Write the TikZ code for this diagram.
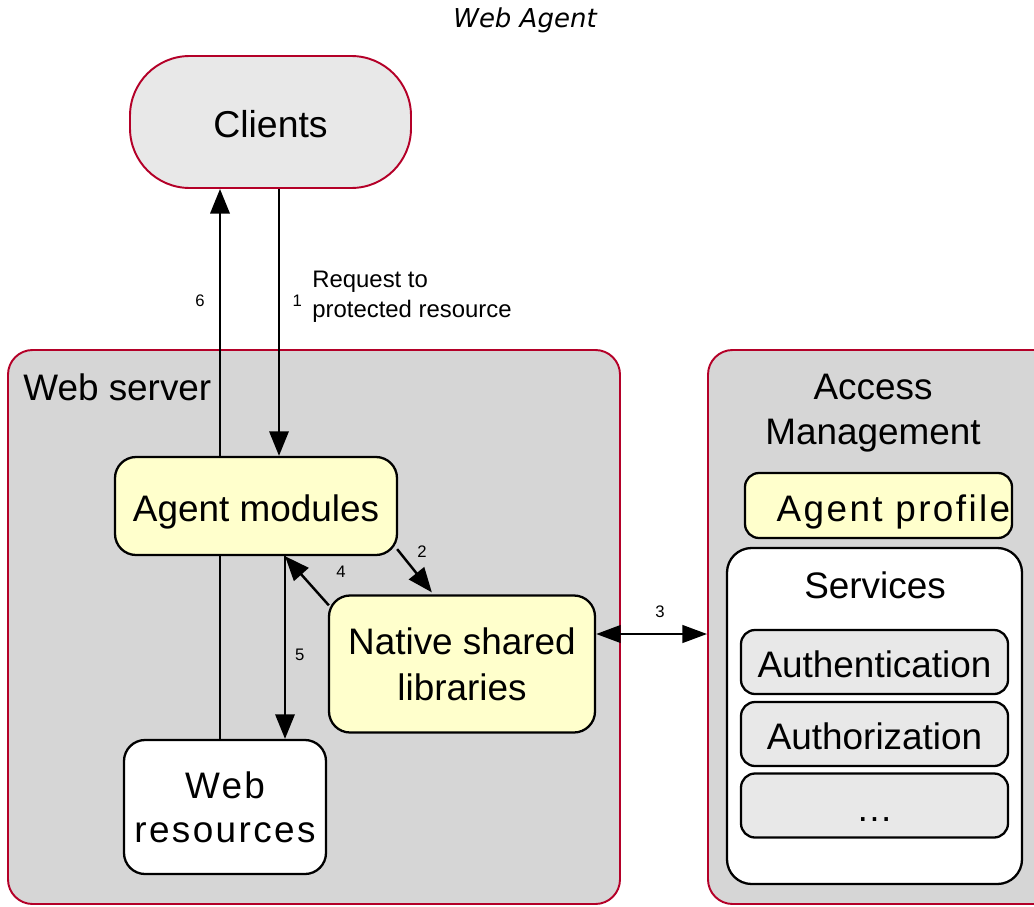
\documentclass[tikz,border=0pt]{standalone}
\usepackage{fontspec}
\setmainfont{Liberation Sans}
\newfontfamily\titlefont{DejaVu Sans}
\newfontfamily\widefont[LetterSpace=6.5]{Liberation Sans}
\usetikzlibrary{arrows.meta}

\definecolor{amred}{RGB}{180,0,40}
\definecolor{panelgray}{RGB}{214,214,214}
\definecolor{boxyellow}{RGB}{255,255,204}
\definecolor{boxgray}{RGB}{232,232,232}

\tikzset{
  sz/.style 2 args={minimum width=#1*0.02cm, minimum height=#2*0.02cm},
  bigtext/.style={font=\fontsize{21}{26}\selectfont},
  oneline/.style={text height=18pt, text depth=0pt},
  panel/.style={draw=amred, line width=1.1pt, fill=panelgray, rounded corners=14pt, inner sep=0pt},
  box/.style={draw=black, line width=1.3pt, rounded corners=12pt, inner sep=0pt, align=center, bigtext},
  svc/.style={box, oneline, fill=boxgray, rounded corners=8pt, sz={267}{64}},
  arr/.style={-{Triangle[length=14pt,width=11pt]}, line width=1.4pt},
  dblarr/.style={{Triangle[length=14pt,width=10pt]}-{Triangle[length=14pt,width=10pt]}, line width=1.4pt},
  num/.style={font=\fontsize{9.5}{11}\selectfont, inner sep=0pt}
}

\begin{document}
\begin{tikzpicture}[x=0.02cm, y=-0.02cm]
    \useasboundingbox (0,0) rectangle (1034,906);
    \clip (0,0) rectangle (1034,906);

    % Title
    \node (title) at (525,20) {\titlefont\itshape\fontsize{14.8}{18}\selectfont Web Agent};

    % Panels
    \node[panel, sz={612}{554}] (websrv) at (314,627) {};
    \node[panel, sz={362}{554}] (am) at (889,627) {};
    \node[bigtext, anchor=base west, inner sep=0pt] (websrvlabel) at (23,400) {Web server};
    \node[bigtext, align=center] (amlabel) at (873,413) {Access\\Management};

    % Clients
    \node[box, oneline, fill=boxgray, draw=amred, line width=1.1pt, rounded corners=34pt,
          sz={281}{132}, font=\fontsize{21.3}{26}\selectfont] (clients) at (270.5,122) {Clients};

    % Inside the web server
    \node[box, oneline, fill=boxyellow, sz={282}{98}] (agent) at (256,506) {Agent modules};
    \node[box, fill=boxyellow, sz={266}{137}] (native) at (462,664) {Native shared\\libraries};
    \node[box, fill=white, sz={202}{134},
          font={\widefont\fontsize{21}{25}\selectfont}] (webres) at (225,807) {Web\\resources};

    % Inside access management
    \node[box, oneline, fill=boxyellow, rounded corners=8pt, sz={267}{65},
          font={\widefont\fontsize{21}{25}\selectfont}] (profile) at (878.5,505.5) {\hspace*{0.6cm}Agent profile};
    \node[box, fill=white, rounded corners=14pt, sz={295}{336}] (services) at (874.5,716) {};
    \node[bigtext] (svclabel) at (875,585) {Services};
    \node[svc] (authn) at (874.5,662) {Authentication};
    \node[svc] (authz) at (874.5,734) {Authorization};
    \node[svc] (more) at (874.5,805.5) {\textellipsis};

    % Clients <-> agent modules
    \draw[arr] (agent.north -| 220,0) -- (clients.south -| 220,0) node[num, pos=0.58, left=8pt] {6};
    \draw[arr] (clients.south -| 279,0) -- (agent.north -| 279,0) node[num, pos=0.42, right=7pt] {1};
    \node[align=left, anchor=west, inner sep=0pt, font=\fontsize{13.6}{17}\selectfont] (req) at (312,297) {Request to\\protected resource};

    % Agent modules <-> web resources
    \draw[line width=1.4pt] (agent.south -| 220,0) -- (webres.north -| 220,0);
    \draw[arr] (agent.south -| 285,0) -- (webres.north -| 285,0) node[num, pos=0.54, right=5pt] {5};

    % Agent modules <-> native libraries
    \draw[arr] ([shift={(-1,-7)}]agent.south east) -- ([shift={(104,-2)}]native.north west);
    \node[num] (n2) at (422,552) {2};
    \draw[arr] ([shift={(1,11)}]native.north west) -- (agent.south -| 285,0);
    \node[num] (n4) at (341,572) {4};

    % Native libraries <-> access management
    \draw[dblarr] (native.east |- 0,634) -- (am.west |- 0,634);
    \node[num] (n3) at (660,612) {3};

\end{tikzpicture}
\end{document}
